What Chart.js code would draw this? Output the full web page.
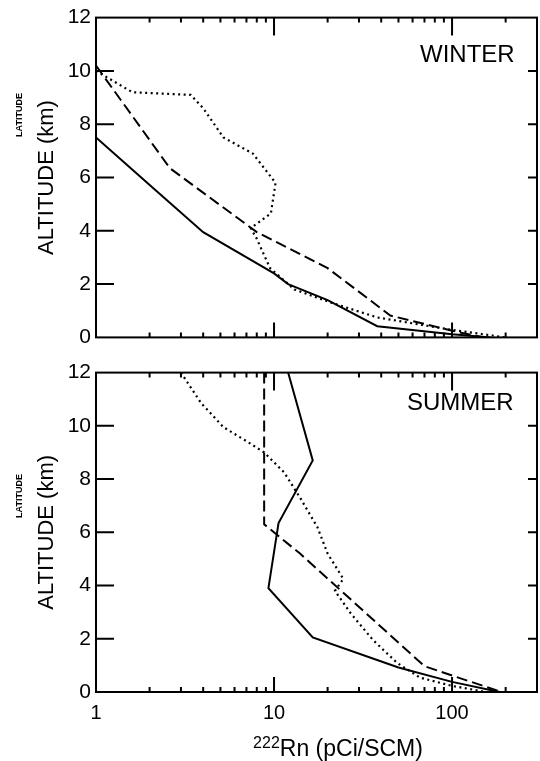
<!DOCTYPE html>
<html><head><meta charset="utf-8">
<script src="https://cdn.jsdelivr.net/npm/chart.js@4.4.1/dist/chart.umd.min.js"></script>
<style>
html,body{margin:0;padding:0;background:#fff;}
#wrap{position:relative;width:540px;height:761px;overflow:hidden;font-family:"Liberation Sans",Arial,sans-serif;color:#000;background:#fff;}
canvas{position:absolute;left:0;}
.lbl{position:absolute;white-space:nowrap;line-height:24px;}
.lat{position:absolute;font-size:9px;font-weight:bold;line-height:9px;transform:translate(-50%,-50%) rotate(-90deg);white-space:nowrap;}
sup{font-size:16px;line-height:0;vertical-align:8px;}
</style></head><body>
<div id="wrap">
<canvas id="cW" width="540" height="355" style="top:0"></canvas>
<canvas id="cS" width="540" height="406" style="top:355px"></canvas>
<div class="lbl" style="left:420px;top:42px;font-size:24px">WINTER</div>
<div class="lbl" style="left:407px;top:390px;font-size:24px">SUMMER</div>
<div class="lat" style="left:19px;top:115px">LATITUDE</div>
<div class="lat" style="left:19px;top:496px">LATITUDE</div>
<div class="lbl" style="left:238px;width:200px;text-align:center;top:736px;font-size:23px"><sup>222</sup>Rn (pCi/SCM)</div>
</div>
<script>
// ---- data (Rn-222 in pCi/SCM vs altitude in km) ----
const winterSolidRn  = [1.0, 2.1, 4.0, 10, 12, 20, 38, 100, 165];
const winterSolidAlt = [7.5, 5.6, 3.95, 2.4, 2.0, 1.4, 0.42, 0.12, 0];
const winterDashRn   = [1.0, 2.6, 8.0, 20, 45, 100, 150];
const winterDashAlt  = [10.2, 6.35, 3.95, 2.6, 0.82, 0.25, 0];
const winterDotRn    = [1.0, 1.6, 3.4, 4.0, 5.2, 7.6, 10.2, 9.6, 7.4, 8.0, 9.5, 13, 21, 38, 100, 200];
const winterDotAlt   = [10.0, 9.2, 9.1, 8.6, 7.5, 6.9, 5.8, 4.65, 4.1, 3.7, 2.6, 1.8, 1.3, 0.75, 0.28, 0];

const summerSolidRn  = [12, 16.5, 10.6, 9.3, 16.5, 50, 100, 185];
const summerSolidAlt = [12, 8.7, 6.35, 3.9, 2.05, 0.92, 0.38, 0];
const summerDashRn   = [8.8, 8.8, 14, 70, 102, 190];
const summerDashAlt  = [12, 6.3, 5.2, 0.97, 0.6, 0];
const summerDotRn    = [3.0, 3.9, 5.2, 7.1, 8.8, 11.4, 14, 17.5, 20, 24.5, 22, 27, 36, 49, 66, 100, 155];
const summerDotAlt   = [12, 10.85, 9.95, 9.4, 9.0, 8.25, 7.3, 6.2, 5.2, 4.25, 3.8, 2.95, 1.95, 1.1, 0.54, 0.23, 0];

const xLabelTicks = [1, 10, 100];
const xMajorTicks = [10, 100];
const xMinorTicks = [2,3,4,5,6,7,8,9,20,30,40,50,60,70,80,90,200];
const yTickMarks  = [2, 4, 6, 8, 10];
const xMin = 1, xMax = 300, yMin = 0, yMax = 12;

const FONT = '"Liberation Sans", Arial, sans-serif';
const toPts = (xs, ys) => xs.map((v, i) => ({x: v, y: ys[i]}));

const framePlugin = {
  id: 'frame',
  afterDatasetsDraw(chart) {
    const {ctx, chartArea: a, scales: {x, y}} = chart;
    ctx.save();
    ctx.strokeStyle = '#000';
    ctx.lineWidth = 2;
    ctx.strokeRect(a.left, a.top, a.right - a.left, a.bottom - a.top);
    ctx.beginPath();
    xMinorTicks.forEach(v => {
      const p = x.getPixelForValue(v);
      ctx.moveTo(p, a.bottom); ctx.lineTo(p, a.bottom - 5);
      ctx.moveTo(p, a.top); ctx.lineTo(p, a.top + 5);
    });
    xMajorTicks.forEach(v => {
      const p = x.getPixelForValue(v);
      ctx.moveTo(p, a.bottom); ctx.lineTo(p, a.bottom - 15);
      ctx.moveTo(p, a.top); ctx.lineTo(p, a.top + 18);
    });
    yTickMarks.forEach(v => {
      const p = y.getPixelForValue(v);
      ctx.moveTo(a.left, p); ctx.lineTo(a.left + 18, p);
      ctx.moveTo(a.right, p); ctx.lineTo(a.right - 9, p);
    });
    ctx.stroke();
    ctx.restore();
  }
};

function ds(xs, ys, dash, w) {
  return {data: toPts(xs, ys), showLine: true, borderColor: '#000', borderWidth: w,
          borderDash: dash, pointRadius: 0, fill: false, tension: 0};
}

function makeChart(id, datasets, padTop, xHeight, showX) {
  return new Chart(document.getElementById(id), {
    type: 'scatter',
    data: {datasets},
    plugins: [framePlugin],
    options: {
      responsive: false, animation: false, devicePixelRatio: 1,
      layout: {padding: {top: padTop, right: 3, left: 0, bottom: 0}},
      plugins: {legend: {display: false}, tooltip: {enabled: false}},
      scales: {
        x: {
          type: 'logarithmic', min: xMin, max: xMax,
          grid: {display: false, drawTicks: false}, border: {display: false},
          afterBuildTicks: s => { s.ticks = xLabelTicks.map(v => ({value: v})); },
          afterFit: s => { s.height = xHeight; },
          ticks: {display: showX, autoSkip: false, maxRotation: 0, padding: 9, color: '#000',
                  font: {family: FONT, size: 20}, callback: v => String(v)}
        },
        y: {
          min: yMin, max: yMax,
          grid: {display: false, drawTicks: false}, border: {display: false},
          afterFit: s => { s.width = 96; },
          ticks: {stepSize: 2, padding: 5, color: '#000', font: {family: FONT, size: 21}},
          title: {display: true, text: 'ALTITUDE (km)', color: '#000',
                  font: {family: FONT, size: 22}, padding: {top: 34, bottom: 0}}
        }
      }
    }
  });
}

makeChart('cW', [
  ds(winterSolidRn, winterSolidAlt, [], 2),
  ds(winterDashRn, winterDashAlt, [11, 5], 2),
  ds(winterDotRn, winterDotAlt, [2, 3.5], 2.2)
], 15, 17, false);

makeChart('cS', [
  ds(summerSolidRn, summerSolidAlt, [], 2),
  ds(summerDashRn, summerDashAlt, [11, 5], 2),
  ds(summerDotRn, summerDotAlt, [2, 3.5], 2.2)
], 16, 69, true);
</script>
</body></html>
